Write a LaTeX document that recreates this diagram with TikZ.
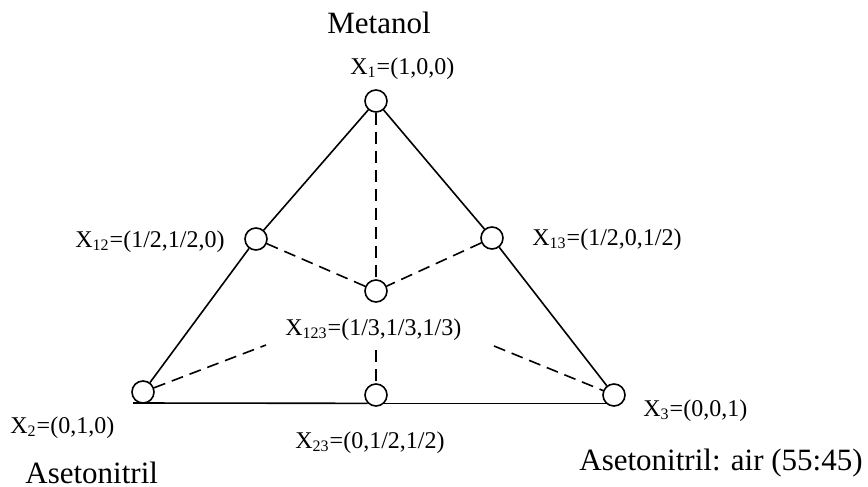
\documentclass[tikz,border=0pt]{standalone}
\usepackage{fontspec}
\setmainfont{Liberation Serif}
\begin{document}
\begin{tikzpicture}[x=0.5pt,y=-0.5pt,
  pt/.style={circle,draw,line width=0.8pt,minimum size=11pt,inner sep=0pt,fill=white},
  edge/.style={line width=0.8pt},
  dashedge/.style={line width=0.8pt,dash pattern=on 6pt off 3.5pt},
  lab/.style={anchor=base west,inner sep=0pt,font=\fontsize{12}{14}\selectfont},
  big/.style={anchor=base west,inner sep=0pt,font=\fontsize{15.5}{18}\selectfont}]
\useasboundingbox (0,0) rectangle (868,487);
% points
\coordinate (p1) at (376,101);
\coordinate (p12) at (256,239);
\coordinate (p13) at (492,238);
\coordinate (p123) at (376,291);
\coordinate (p2) at (143,392);
\coordinate (p23) at (376,395);
\coordinate (p3) at (614,395);
\coordinate (bl) at (133,403);
\coordinate (c2) at (266,345);
\coordinate (c3) at (494,346);
\coordinate (c23) at (376,350);
% circles
\node[pt] (x1) at (p1) {};
\node[pt] (x12) at (p12) {};
\node[pt] (x13) at (p13) {};
\node[pt] (x123) at (p123) {};
\node[pt] (x2) at (p2) {};
\node[pt] (x23) at (p23) {};
\node[pt] (x3) at (p3) {};
% solid edges
\draw[edge] (x1) -- (x12) -- (x2);
\draw[edge] (x1) -- (x13) -- (x3);
\draw[edge] (bl) -- (x23.south west);
\draw[edge] (x23.south east) -- (x3.south west);
% dashed edges
\draw[dashedge] (x1) -- (x123);
\draw[dashedge] (x12) -- (x123);
\draw[dashedge] (x13) -- (x123);
\draw[dashedge] (x2) -- (c2);
\draw[dashedge] (c3) -- (x3);
\draw[dashedge] (c23) -- (x23);
% labels
\node[big] (tm) at (327,33) {Metanol};
\node[lab] (l1) at (350,74) {X\textsubscript{1}=(1,0,0)};
\node[lab] (l12) at (75,247) {X\textsubscript{12}=(1/2,1/2,0)};
\node[lab] (l13) at (532,245) {X\textsubscript{13}=(1/2,0,1/2)};
\node[lab] (l123) at (285,335) {X\textsubscript{123}=(1/3,1/3,1/3)};
\node[lab] (l23) at (295,448) {X\textsubscript{23}=(0,1/2,1/2)};
\node[lab] (l3) at (643,416) {X\textsubscript{3}=(0,0,1)};
\node[lab] (l2) at (10,433) {X\textsubscript{2}=(0,1,0)};
\node[big] (ta) at (25,483) {Asetonitril};
\node[big] (tb) at (579,470) {Asetonitril: air (55:45)};
\end{tikzpicture}
\end{document}
